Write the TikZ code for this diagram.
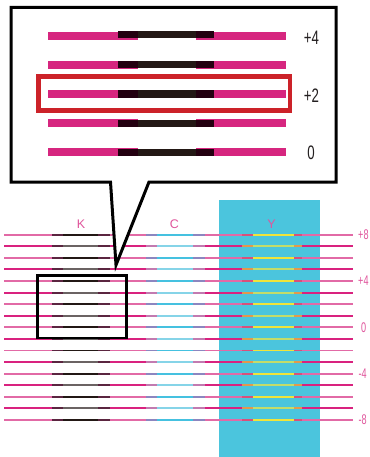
\documentclass[tikz,border=0pt]{standalone}
\usepackage{fontspec}
\setmainfont{Liberation Sans}
\usepackage{graphicx}
\definecolor{bluebg}{HTML}{4BC5DD}
\definecolor{pinkL}{HTML}{E26AA6}
\definecolor{pinkD}{HTML}{D9227F}
\definecolor{pinkC}{HTML}{D6267F}
\definecolor{kblack}{HTML}{231815}
\definecolor{kgray}{HTML}{6B6363}
\definecolor{kmix}{HTML}{5B2540}
\definecolor{kmixC}{HTML}{230010}
\definecolor{cyanA}{HTML}{45C1E0}
\definecolor{cyanB}{HTML}{86D4E8}
\definecolor{cmixA}{HTML}{8C86C0}
\definecolor{cmixB}{HTML}{C27AB0}
\definecolor{yelA}{HTML}{F0E43A}
\definecolor{yelB}{HTML}{C4DC6A}
\definecolor{ymixA}{HTML}{D9507A}
\definecolor{ymixB}{HTML}{E2984E}
\definecolor{redbox}{HTML}{CC2229}
\definecolor{labpink}{HTML}{E0559C}
\definecolor{labdark}{HTML}{231F20}
\tikzset{
  rowline/.style={line width=1.9pt},
  callbar/.style={line width=7.5pt},
  biglab/.style={inner sep=0pt, text=labdark, font=\fontsize{19.5}{19.5}\selectfont},
  sidelab/.style={inner sep=0pt, anchor=west, text=labpink, font=\fontsize{14}{14}\selectfont},
  collab/.style={inner sep=0pt, text=labpink, font=\fontsize{12.5}{12.5}\selectfont},
}
\begin{document}
\begin{tikzpicture}[x=1pt,y=-1pt,line cap=butt]
\useasboundingbox (0,0) rectangle (369,457);
\fill[white] (0,0) rectangle (369,457);
\fill[bluebg] (219,200) rectangle (320,457);
% lower chart rows
\foreach \i in {0,...,16} {
  \pgfmathsetmacro\yy{234.7+11.58*\i}
  \pgfmathtruncatemacro\odd{mod(\i,2)}
  \ifnum\odd=0
    \def\pk{pinkL}\def\kk{kblack}\def\cc{cyanA}\def\cm{cmixA}\def\yc{yelA}\def\ym{ymixA}
  \else
    \def\pk{pinkD}\def\kk{kgray}\def\cc{cyanB}\def\cm{cmixB}\def\yc{yelB}\def\ym{ymixB}
  \fi
  \draw[rowline,\pk] (4,\yy) -- (52,\yy) (110,\yy) -- (146,\yy) (205,\yy) -- (242,\yy) (302,\yy) -- (353,\yy);
  \draw[rowline,\kk] (63,\yy) -- (98,\yy);
  \draw[rowline,kmix] (52,\yy) -- (63,\yy) (98,\yy) -- (110,\yy);
  \draw[rowline,\cc] (157,\yy) -- (193,\yy);
  \draw[rowline,\cm] (146,\yy) -- (157,\yy) (193,\yy) -- (205,\yy);
  \draw[rowline,\yc] (253,\yy) -- (294,\yy);
  \draw[rowline,\ym] (242,\yy) -- (253,\yy) (294,\yy) -- (302,\yy);
}
% column labels
\node[collab] (labK) at (81,224) {K};
\node[collab] (labC) at (174.5,224) {C};
\node[collab] (labY) at (271.5,224) {Y};
% side labels
\node[sidelab] (s8p) at (358,234.7) {\scalebox{0.65}[1]{+8}};
\node[sidelab] (s4p) at (358,281.0) {\scalebox{0.65}[1]{+4}};
\node[sidelab] (s0) at (361,327.3) {\scalebox{0.65}[1]{0}};
\node[sidelab] (s4m) at (358.5,373.7) {\scalebox{0.65}[1]{-4}};
\node[sidelab] (s8m) at (358.5,420.0) {\scalebox{0.65}[1]{-8}};
% callout
\draw[line width=3pt, line join=miter, fill=white]
  (11,7.5) -- (336,7.5) -- (336,182) -- (149,182) -- (116,265) -- (110.5,182) -- (11,182) -- cycle;
% callout bars
\foreach \yy/\dy in {36/-1.5,65/-0.5,94/0,123/0.5,152/0.3} {
  \draw[callbar,pinkC] (48,\yy) -- (138,\yy) (196,\yy) -- (286,\yy);
  \draw[callbar,kblack] (138,\yy+\dy) -- (196,\yy+\dy);
  \draw[callbar,kmixC] (118,\yy+\dy) -- (138,\yy+\dy) (196,\yy+\dy) -- (214,\yy+\dy);
}
\node[biglab] (b4) at (311.5,37.5) {\scalebox{0.68}[1]{+4}};
\node[biglab] (b2) at (311.5,95.5) {\scalebox{0.68}[1]{+2}};
\node[biglab] (b0) at (311,153) {\scalebox{0.68}[1]{0}};
% red highlight
\draw[redbox, line width=4.8pt, line join=miter] (38.5,76.5) rectangle (290,110.5);
% K selection box
\draw[line width=2.8pt, line join=miter] (37.5,275.5) rectangle (126.7,338);
\end{tikzpicture}
\end{document}
